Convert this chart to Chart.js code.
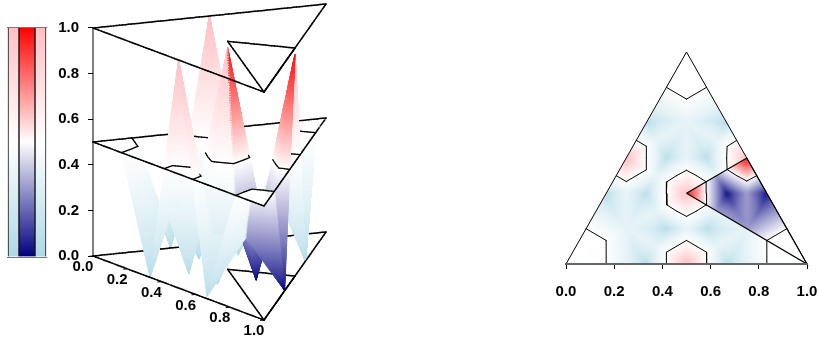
<!DOCTYPE html>
<html>
<head>
<meta charset="utf-8">
<style>
  body { margin: 0; background: #fff; }
  canvas { position: absolute; top: 0; filter: blur(0.35px); }
</style>
<script src="https://cdn.jsdelivr.net/npm/chart.js@4"></script>
</head>
<body>
<canvas id="key" width="48" height="342" style="left:0"></canvas>
<canvas id="surface" width="290" height="342" style="left:48px"></canvas>
<canvas id="map" width="278" height="342" style="left:540px"></canvas>
<script>
// mesh nodes of the triangle, y is the fraction of the triangle height
const nodeNames = "ABCEFGOabcdefghijklpqt";
const nodeX = [0, 1, 0.5, 0.5, 0.25, 0.75, 0.5, 0.3333, 0.6667, 0.1667, 0.8333, 0.3333, 0.6667, 0.3333, 0.6667, 0.4167, 0.5833, 0.4167, 0.5833, 0.25, 0.75, 0.5];
const nodeY = [0, 0, 1, 0, 0.5, 0.5, 0.3333, 0, 0, 0.3333, 0.3333, 0.6667, 0.6667, 0.3333, 0.3333, 0.1667, 0.1667, 0.5, 0.5, 0.1667, 0.1667, 0.6667];
const nodeValue = [1, 1, 1, 1, 1, 0.97, 0.97, 0, 0.01, 0, 0, 0, 0, 0, 0, 0, 0, 0, 0, 0.25, 0.25, 0.25];
// coarse triangles, named by their three nodes
const triangles = ["Aac", "Bbd", "Cef", "Eai", "Eij", "Ejb", "Fcg", "Fgk", "Fke", "Gdh", "Ghl", "Glf",
  "Ogi", "Oij", "Ojh", "Ohl", "Olk", "Okg", "pai", "pig", "pgc", "qbj", "qjh", "qhd", "tek", "tkl", "tlf"];
// value half way along each edge
const edgesAtHalf = ["Aa", "Ac", "Bb", "Bd", "Ce", "Cf", "Ea", "Ei", "Ej", "Eb", "Fc", "Fg", "Fk", "Fe", "Gd", "Gh", "Gl", "Gf", "Og", "Oi", "Oj", "Oh", "Ol", "Ok"];
const ridgeEdges = ["ac", "bd", "ef", "ai", "ij", "jb", "cg", "gk", "ke", "dh", "hl", "lf", "gi", "jh", "lk"];
const ridgeValue = 0.25;
const spokeValue = 0.17;
// corners of the inner triangle and of the outline
const outlineX = [0, 1, 0.5, 0];
const outlineY = [0, 0, 1, 0];
const innerX = [0.5, 1, 0.75, 0.5];
const innerY = [0.3333, 0, 0.5, 0.3333];
const contourLevel = 0.5;
const holeNodes = "ABC";
const axisTicks = [0, 0.2, 0.4, 0.6, 0.8, 1];
const keyColumns = ["pale", "strong", "pale "];
const keyRange = [0, 1];
const frameLevels = [0, 0.5, 1];
const innerLevels = [0, 1];

const palePalette = [[173, 216, 230], [255, 255, 255], [255, 192, 196]];
const strongPalette = [[0, 0, 128], [255, 255, 255], [255, 0, 0]];
const font = { family: '"Liberation Sans", Arial, sans-serif', size: 15, weight: "bold" };
Chart.defaults.font.family = font.family;
Chart.defaults.color = "#000";

//Colour for a value, the low side rises faster than linear like in the picture
function paletteColor(palette, v, lowPower) {
  const low = v < 0.5;
  let t = low ? Math.max(v, 0) * 2 : (Math.min(v, 1) - 0.5) * 2;
  if (low) t = Math.pow(t, lowPower);
  const a = low ? palette[0] : palette[1];
  const b = low ? palette[1] : palette[2];
  return "rgb(" + [0, 1, 2].map((i) => Math.round(a[i] + (b[i] - a[i]) * t)).join(",") + ")";
}

//Build the flat pieces of the surface from the nodes
const nodeAt = (name) => {
  const i = nodeNames.indexOf(name);
  return { x: nodeX[i], y: nodeY[i], v: nodeValue[i] };
};
function edgeMiddleValue(a, b) {
  if (edgesAtHalf.includes(a + b) || edgesAtHalf.includes(b + a)) return 0.5;
  if (ridgeEdges.includes(a + b) || ridgeEdges.includes(b + a)) return ridgeValue;
  return spokeValue;
}
function edgeMiddle(a, b) {
  const p = nodeAt(a), q = nodeAt(b);
  return { x: (p.x + q.x) / 2, y: (p.y + q.y) / 2, v: edgeMiddleValue(a, b) };
}
const lerp = (p, q, t) => ({ x: p.x + (q.x - p.x) * t, y: p.y + (q.y - p.y) * t, v: p.v + (q.v - p.v) * t });

function splitPoly(poly, f) {
  const below = [], above = [];
  poly.forEach((p, i) => {
    const q = poly[(i + 1) % poly.length];
    const fp = f(p), fq = f(q);
    if (fp <= 0) below.push(p);
    if (fp >= 0) above.push(p);
    if (fp * fq < 0) {
      const r = lerp(p, q, fp / (fp - fq));
      below.push(r);
      above.push(r);
    }
  });
  return [below, above];
}

const innerLines = [0, 1, 2].map((i) => (p) => {
  const ax = innerX[i], ay = innerY[i], bx = innerX[i + 1], by = innerY[i + 1];
  return -((bx - ax) * (p.y - ay) - (by - ay) * (p.x - ax));
});

const flatPieces = [];
const contourSegments = [];
function addPolygon(poly, palette) {
  for (let i = 1; i < poly.length - 1; i++) flatPieces.push({ pts: [poly[0], poly[i], poly[i + 1]], palette });
}
triangles.forEach((tri) => {
  const [a, b, c] = tri.split("");
  const pa = nodeAt(a), pb = nodeAt(b), pc = nodeAt(c);
  const ab = edgeMiddle(a, b), bc = edgeMiddle(b, c), ca = edgeMiddle(c, a);
  // the first node is the highest one, all split lines leave from it
  const flats = [[pa, ab, bc], [pa, bc, ca], [ab, pb, bc], [ca, bc, pc]];
  flats.forEach((flat) => {
    // contour of this piece
    const cross = [];
    flat.forEach((p, i) => {
      const q = flat[(i + 1) % 3];
      if ((p.v >= contourLevel) !== (q.v >= contourLevel)) cross.push(lerp(p, q, (contourLevel - p.v) / (q.v - p.v)));
    });
    if (cross.length === 2 && Math.hypot(cross[0].x - cross[1].x, cross[0].y - cross[1].y) > 1e-6) contourSegments.push(cross);

    // corners stay flat and white above the level
    let polys = [flat];
    if (holeNodes.includes(a)) {
      const [below, above] = splitPoly(flat, (p) => p.v - contourLevel);
      polys = [below, above.map((p) => ({ x: p.x, y: p.y, v: contourLevel }))];
    }
    polys.forEach((poly) => {
      let inner = poly;
      innerLines.forEach((f) => {
        if (inner.length < 3) return;
        const [inside, outside] = splitPoly(inner, f);
        if (outside.length >= 3) addPolygon(outside, palePalette);
        inner = inside;
      });
      if (inner.length >= 3) addPolygon(inner, strongPalette);
    });
  });
});

//Cut a flat piece to small cells, toPixel gives the pixel of a mesh point
function eachCell(piece, toPixel, size, emit) {
  const px = piece.pts.map((p) => ({ p, s: toPixel(p) }));
  let longest = 0;
  px.forEach((e, i) => {
    const o = px[(i + 1) % 3];
    longest = Math.max(longest, Math.hypot(e.s.x - o.s.x, e.s.y - o.s.y));
  });
  const n = Math.max(1, Math.ceil(longest / size));
  const at = (i, j) => {
    const u = i / n, w = j / n, r = 1 - u - w;
    return {
      x: px[0].s.x * r + px[1].s.x * u + px[2].s.x * w,
      y: px[0].s.y * r + px[1].s.y * u + px[2].s.y * w,
      mx: piece.pts[0].x * r + piece.pts[1].x * u + piece.pts[2].x * w,
      my: piece.pts[0].y * r + piece.pts[1].y * u + piece.pts[2].y * w,
      v: piece.pts[0].v * r + piece.pts[1].v * u + piece.pts[2].v * w
    };
  };
  for (let i = 0; i < n; i++) {
    for (let j = 0; j < n - i; j++) {
      emit(at(i, j), at(i + 1, j), at(i, j + 1));
      if (i + j < n - 1) emit(at(i + 1, j), at(i + 1, j + 1), at(i, j + 1));
    }
  }
}
function fillCell(ctx, a, b, c, color) {
  ctx.fillStyle = color;
  ctx.strokeStyle = color;
  ctx.beginPath();
  ctx.moveTo(a.x, a.y);
  ctx.lineTo(b.x, b.y);
  ctx.lineTo(c.x, c.y);
  ctx.closePath();
  ctx.fill();
  ctx.stroke();
}
// tick labels may stick out of the plot, keep the plot size as it is
function noScalePadding(scale) {
  scale.paddingLeft = scale.paddingRight = scale.paddingTop = scale.paddingBottom = 0;
}

//Colour key on the left
const keyDatasets = keyColumns.map((name, i) => ({
  label: name,
  data: keyColumns.map((_, k) => (k === i ? keyRange : null)),
  barThickness: i === 1 ? 16 : 11,
  order: i === 1 ? 0 : 1,
  grouped: false,
  borderColor: "#111",
  borderWidth: { left: 1, right: 1, top: 0, bottom: 0 },
  borderSkipped: false,
  backgroundColor: (context) => {
    const { chart } = context;
    if (!chart.chartArea) return "#fff";
    const palette = i === 1 ? strongPalette : palePalette;
    const g = chart.ctx.createLinearGradient(0, chart.chartArea.bottom, 0, chart.chartArea.top);
    g.addColorStop(0, paletteColor(palette, 0, 1));
    g.addColorStop(0.5, paletteColor(palette, 0.5, 1));
    g.addColorStop(1, paletteColor(palette, 1, 1));
    return g;
  }
}));
new Chart(document.getElementById("key"), {
  type: "bar",
  data: { labels: keyColumns, datasets: keyDatasets },
  options: {
    responsive: false,
    animation: false,
    layout: { autoPadding: false, padding: { left: 6.75, right: 0.75, top: 27, bottom: 85 } },
    plugins: { legend: { display: false }, tooltip: { enabled: false } },
    scales: {
      x: { display: false, stacked: true },
      y: {
        min: 0, max: 1,
        afterBuildTicks: (scale) => { scale.ticks = keyRange.map((value) => ({ value })); },
        afterFit: (scale) => { scale.width = 0; noScalePadding(scale); },
        ticks: { display: false },
        border: { display: false },
        grid: { z: 1, color: "#777", drawTicks: false }
      }
    }
  }
});

//3D view: plot units are the oblique projection of the prism
const sideB = [1, -64 / 228];
const sideC = [233 / 171, 24 / 228];
const projX = (p, z) => (p.x - p.y / 2) * sideB[0] + p.y * sideC[0];
const projY = (p, z) => z + (p.x - p.y / 2) * sideB[1] + p.y * sideC[1];
const depth = (p, z) => 147.5 * (p.x - p.y / 2) - 54.4 * p.y + 83.4 * z;

const surfacePlugin = {
  id: "surface",
  beforeDatasetsDraw(chart) {
    const { ctx, scales } = chart;
    const px = (p, z) => ({ x: scales.x.getPixelForValue(projX(p, z)), y: scales.y.getPixelForValue(projY(p, z)) });
    const items = [];
    flatPieces.forEach((piece) => {
      const power = piece.palette === palePalette ? 0.6 : 0.8;
      eachCell(piece, (p) => px(p, p.v), 2.5, (a, b, c) => {
        const m = { x: (a.mx + b.mx + c.mx) / 3, y: (a.my + b.my + c.my) / 3 };
        const v = (a.v + b.v + c.v) / 3;
        items.push({ d: depth(m, v), cell: [a, b, c], color: paletteColor(piece.palette, v, power) });
      });
    });
    const addLine = (p, q, z, width, bias) => {
      const a = px(p, z), b = px(q, z);
      const n = Math.ceil(Math.hypot(a.x - b.x, a.y - b.y) / 3);
      for (let i = 0; i < n; i++) {
        const s = lerp(p, q, i / n), e = lerp(p, q, (i + 1) / n);
        const mid = { x: (s.x + e.x) / 2, y: (s.y + e.y) / 2 };
        items.push({ d: depth(mid, z) + bias, line: [px(s, z), px(e, z)], width });
      }
    };
    const addRing = (xs, ys, z) => {
      for (let i = 0; i + 1 < xs.length; i++) addLine({ x: xs[i], y: ys[i], v: z }, { x: xs[i + 1], y: ys[i + 1], v: z }, z, 1.5, 4);
    };
    frameLevels.forEach((z) => addRing(outlineX, outlineY, z));
    innerLevels.forEach((z) => addRing(innerX, innerY, z));
    contourSegments.forEach((s) => addLine(s[0], s[1], contourLevel, 1.3, 5));

    items.sort((a, b) => a.d - b.d);
    ctx.save();
    ctx.lineCap = "round";
    items.forEach((it) => {
      if (it.cell) {
        ctx.lineWidth = 0.6;
        fillCell(ctx, it.cell[0], it.cell[1], it.cell[2], it.color);
      } else {
        ctx.strokeStyle = "#000";
        ctx.lineWidth = it.width;
        ctx.beginPath();
        ctx.moveTo(it.line[0].x, it.line[0].y);
        ctx.lineTo(it.line[1].x, it.line[1].y);
        ctx.stroke();
      }
    });
    ctx.restore();
  },
  afterDatasetsDraw(chart) {
    // the front axis runs along the triangle, so it is not a normal scale
    const { ctx, scales } = chart;
    ctx.save();
    ctx.font = font.weight + " " + font.size + "px " + font.family;
    ctx.textAlign = "center";
    ctx.textBaseline = "middle";
    ctx.fillStyle = "#000";
    ctx.strokeStyle = "#000";
    ctx.lineWidth = 1;
    axisTicks.forEach((t) => {
      const p = { x: t, y: 0 };
      const x = scales.x.getPixelForValue(projX(p, 0));
      const y = scales.y.getPixelForValue(projY(p, 0));
      ctx.beginPath();
      ctx.moveTo(x, y);
      ctx.lineTo(x - 4, y + 0.4);
      ctx.stroke();
      ctx.fillText(t.toFixed(1), x - 10, y + 11);
    });
    ctx.restore();
  }
};
new Chart(document.getElementById("surface"), {
  type: "scatter",
  data: {
    datasets: [{
      data: [{ x: 0, y: 0 }, { x: 0, y: 1 }],
      showLine: true,
      pointRadius: 0,
      borderColor: "#000",
      borderWidth: 1,
      clip: false
    }]
  },
  plugins: [surfacePlugin],
  options: {
    responsive: false,
    animation: false,
    layout: { autoPadding: false, padding: { left: 0, right: 12, top: 4, bottom: 22 } },
    plugins: { legend: { display: false }, tooltip: { enabled: false } },
    scales: {
      x: { display: false, min: 0, max: sideC[0] },
      y: {
        min: sideB[1],
        max: 1 + sideC[1],
        afterBuildTicks: (scale) => { scale.ticks = axisTicks.map((value) => ({ value })); },
        afterFit: (scale) => { scale.width = 45; noScalePadding(scale); },
        border: { display: false },
        grid: { drawOnChartArea: false, color: "#000", tickLength: 5 },
        ticks: { font, padding: 9, callback: (v) => v.toFixed(1) }
      }
    }
  }
});

//Flat map on the right, each palette is painted on its own layer and softened
const heatPlugin = {
  id: "heat",
  beforeDatasetsDraw(chart) {
    const { ctx, scales } = chart;
    const px = (p) => ({ x: scales.x.getPixelForValue(p.x), y: scales.y.getPixelForValue(p.y) });
    const drawLayer = (palette, power, xs, ys) => {
      const layer = document.createElement("canvas");
      layer.width = chart.width;
      layer.height = chart.height;
      const lc = layer.getContext("2d");
      lc.fillStyle = paletteColor(palette, ridgeValue, power);
      lc.fillRect(0, 0, layer.width, layer.height);
      lc.lineWidth = 0.6;
      flatPieces.forEach((piece) => {
        eachCell(piece, px, 2.5, (a, b, c) => {
          fillCell(lc, a, b, c, paletteColor(palette, (a.v + b.v + c.v) / 3, power));
        });
      });
      ctx.save();
      ctx.beginPath();
      xs.forEach((x, i) => {
        const s = px({ x, y: ys[i] });
        if (i === 0) ctx.moveTo(s.x, s.y);
        else ctx.lineTo(s.x, s.y);
      });
      ctx.closePath();
      ctx.clip();
      ctx.filter = "blur(1.2px)";
      ctx.drawImage(layer, 0, 0);
      ctx.restore();
    };
    drawLayer(palePalette, 0.5, outlineX, outlineY);
    drawLayer(strongPalette, 0.7, innerX, innerY);
  }
};
const contourPoints = [];
contourSegments.forEach((s) => {
  contourPoints.push({ x: s[0].x, y: s[0].y }, { x: s[1].x, y: s[1].y }, { x: NaN, y: NaN });
});
const lineStyle = { showLine: true, pointRadius: 0, borderColor: "#000", clip: false, spanGaps: false };
new Chart(document.getElementById("map"), {
  type: "scatter",
  data: {
    datasets: [
      { ...lineStyle, data: contourPoints, borderWidth: 1, borderCapStyle: "round" },
      { ...lineStyle, data: outlineX.map((x, i) => ({ x, y: outlineY[i] })), borderWidth: 1 },
      { ...lineStyle, data: innerX.map((x, i) => ({ x, y: innerY[i] })), borderWidth: 1.2 }
    ]
  },
  plugins: [heatPlugin],
  options: {
    responsive: false,
    animation: false,
    layout: { autoPadding: false, padding: { left: 26, right: 11, top: 52, bottom: 0 } },
    plugins: { legend: { display: false }, tooltip: { enabled: false } },
    scales: {
      x: {
        min: 0, max: 1,
        afterBuildTicks: (scale) => { scale.ticks = axisTicks.map((value) => ({ value })); },
        afterFit: (scale) => { scale.height = 78; noScalePadding(scale); },
        border: { color: "#666", width: 2, z: 1 },
        grid: { drawOnChartArea: false, color: "#000", tickLength: 5 },
        ticks: { font, padding: 14, maxRotation: 0, callback: (v) => v.toFixed(1) }
      },
      y: { display: false, min: 0, max: 1 }
    }
  }
});
</script>
</body>
</html>
